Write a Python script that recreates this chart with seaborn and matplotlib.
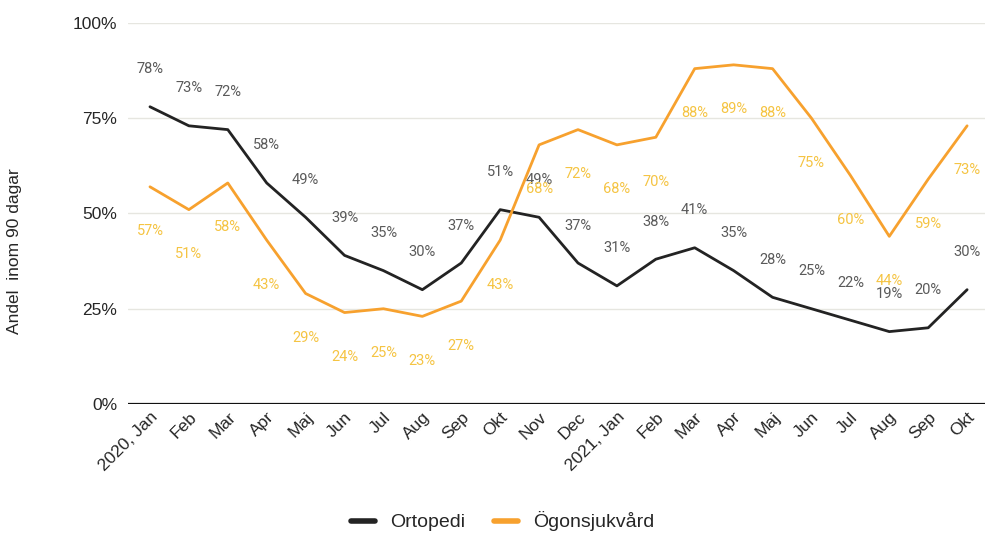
import numpy as np
import pandas as pd
import matplotlib
matplotlib.use('Agg')
import matplotlib.pyplot as plt
import seaborn as sns
from matplotlib.lines import Line2D

# data
months = ['2020, Jan', 'Feb', 'Mar', 'Apr', 'Maj', 'Jun', 'Jul', 'Aug', 'Sep', 'Okt',
          'Nov', 'Dec', '2021, Jan', 'Feb', 'Mar', 'Apr', 'Maj', 'Jun', 'Jul', 'Aug',
          'Sep', 'Okt']
ortopedi = [78, 73, 72, 58, 49, 39, 35, 30, 37, 51, 49, 37, 31, 38, 41, 35, 28, 25, 22, 19, 20, 30]
ogon = [57, 51, 58, 43, 29, 24, 25, 23, 27, 43, 68, 72, 68, 70, 88, 89, 88, 75, 60, 44, 59, 73]
series_names = ['Ortopedi', 'Ögonsjukvård']

LINE_COLORS = {'Ortopedi': '#232323', 'Ögonsjukvård': '#F7A12E'}
LABEL_COLORS = {'Ortopedi': '#5a5a5a', 'Ögonsjukvård': '#F5C443'}
LABEL_OFFSET = {'Ortopedi': 27, 'Ögonsjukvård': -32}  # points

sns.set_style('white')
plt.rcParams['font.family'] = ['Liberation Sans', 'DejaVu Sans']

idx = np.arange(len(months))
df = pd.DataFrame({
    'idx': np.concatenate([idx, idx]),
    'value': ortopedi + ogon,
    'serie': [series_names[0]] * len(idx) + [series_names[1]] * len(idx),
})

fig = plt.figure(figsize=(9.86, 5.33), dpi=100)
ax = fig.add_axes([0.13, 0.242, 0.869, 0.715])

for y in [25, 50, 75, 100]:
    ax.axhline(y, color='#e6e6e0', lw=1, zorder=0)
ax.axhline(0, color='#111111', lw=1.6, zorder=1)

sns.lineplot(data=df, x='idx', y='value', hue='serie', palette=LINE_COLORS,
             linewidth=2, sort=False, legend=False, ax=ax, zorder=3)

for name, vals in zip(series_names, [ortopedi, ogon]):
    for i, v in enumerate(vals):
        ax.annotate(f'{v}%', (i, v), xytext=(0, LABEL_OFFSET[name]),
                    textcoords='offset points', ha='center', va='center',
                    fontsize=10.5, color=LABEL_COLORS[name], family='Roboto', zorder=4)

ax.set_xlim(-0.56, 21.46)
ax.set_ylim(0, 100)
ax.set_xticks(idx)
ax.set_xticklabels(months, rotation=45, ha='right', rotation_mode='anchor', fontsize=12.5)
ax.set_yticks([0, 25, 50, 75, 100])
ax.set_yticklabels(['0%', '25%', '50%', '75%', '100%'], fontsize=12.5)
ax.tick_params(axis='both', length=0)
ax.tick_params(axis='x', pad=4)
ax.tick_params(axis='y', pad=8)
ax.set_xlabel('')
ax.set_ylabel('Andel  inom 90 dagar', fontsize=12.5)
ax.yaxis.set_label_coords(-0.124, 0.4)
for s in ax.spines.values():
    s.set_visible(False)

handles = [Line2D([0], [0], color=LINE_COLORS[n], lw=4) for n in series_names]
fig.legend(handles, series_names, loc='lower center', bbox_to_anchor=(0.51, -0.03),
           ncol=2, frameon=False, fontsize=14, handlelength=1.2, columnspacing=1.5)

fig.savefig('out.png', dpi=100)
